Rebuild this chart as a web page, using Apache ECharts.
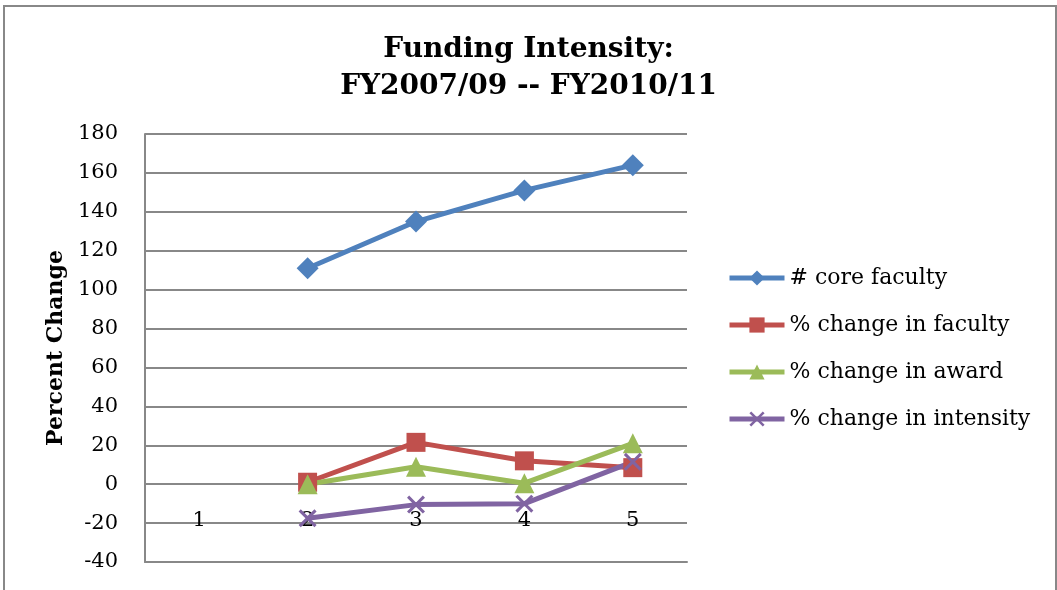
<!DOCTYPE html>
<html><head><meta charset="utf-8">
<script src="https://cdn.jsdelivr.net/npm/echarts@6/dist/echarts.min.js"></script>
<style>html,body{margin:0;padding:0;background:#fff}#c{width:1057px;height:590px}</style>
</head><body><div id="c"></div>
<script>
const categories = ['1','2','3','4','5'];
const coreFaculty = [null, 111, 135, 151, 164];
const changeFaculty = [null, 1, 21.5, 12, 8.5];
const changeAward = [null, 0, 9, 0.5, 21];
const changeIntensity = [null, -17.5, -10.5, -10, 11.5];
const seriesNames = ['# core faculty', '% change in faculty', '% change in award', '% change in intensity'];

const FONT = 'DejaVu Serif';
const xPath = 'path://M0,1.2L1.2,0L5,3.8L8.8,0L10,1.2L6.2,5L10,8.8L8.8,10L5,6.2L1.2,10L0,8.8L3.8,5Z';
const chart = echarts.init(document.getElementById('c'));
function mk(name, data, color, symbol, size) {
  return {name, type:'line', data, symbol, symbolSize:size,
    lineStyle:{color, width:5}, itemStyle:{color}, z:3};
}
chart.setOption({
  animation:false,
  graphic:[{type:'rect', shape:{x:4,y:6,width:1052,height:600}, style:{fill:'none', stroke:'#888', lineWidth:2}}],
  title:{text:'Funding Intensity:\nFY2007/09 -- FY2010/11', left:'center', top:26,
    textStyle:{fontFamily:FONT, fontWeight:'bold', fontSize:28, lineHeight:37, color:'#000'}},
  legend:{orient:'vertical', left:722, top:262, itemWidth:55, itemHeight:19, itemGap:25,
    lineStyle:{width:5},
    textStyle:{fontFamily:FONT, fontSize:22, color:'#000'}, data:seriesNames},
  grid:{left:145, right:370, top:134, bottom:28, outerBoundsMode:'none'},
  xAxis:{type:'category', data:categories, boundaryGap:true,
    axisLine:{onZero:false, lineStyle:{color:'#888', width:2}}, axisTick:{show:false},
    axisLabel:{fontFamily:FONT, fontSize:21, color:'#000', margin:-52}},
  yAxis:{type:'value', min:-40, max:180, interval:20,
    name:'Percent Change', nameLocation:'middle', nameGap:76,
    nameTextStyle:{fontFamily:FONT, fontWeight:'bold', fontSize:22, color:'#000'},
    axisLine:{show:true, lineStyle:{color:'#888', width:2}}, axisTick:{show:false},
    axisLabel:{fontFamily:FONT, fontSize:21, color:'#000', margin:27},
    splitLine:{lineStyle:{color:'#888', width:2}}},
  series:[
    mk(seriesNames[0], coreFaculty, '#4F81BD', 'diamond', 22),
    mk(seriesNames[1], changeFaculty, '#C0504D', 'rect', 19),
    mk(seriesNames[2], changeAward, '#9BBB59', 'triangle', 20),
    mk(seriesNames[3], changeIntensity, '#8064A2', xPath, 18)
  ]
});
</script></body></html>
